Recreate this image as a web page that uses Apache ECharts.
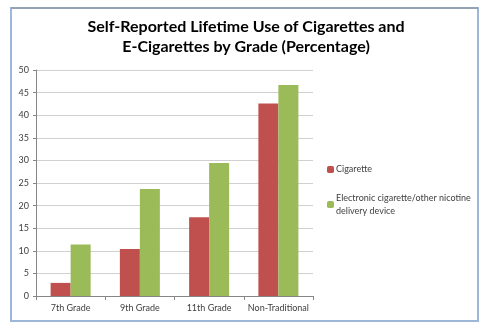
<!DOCTYPE html>
<html>
<head>
<meta charset="utf-8">
<script src="https://cdn.jsdelivr.net/npm/echarts@6/dist/echarts.min.js"></script>
<style>
  html, body { margin: 0; padding: 0; background: #fff; }
  #chart { width: 491px; height: 331px; }
</style>
</head>
<body>
<div id="chart"></div>
<script>
// Grades on the category axis
var grades = ['7th Grade', '9th Grade', '11th Grade', 'Non-Traditional'];
// Lifetime use, percent of students
var cigarette = [2.9, 10.4, 17.4, 42.6];
var eCigarette = [11.4, 23.7, 29.4, 46.7];
var seriesNames = ['Cigarette', 'Electronic cigarette/other nicotine delivery device'];
var yTicks = { min: 0, max: 50, interval: 5 };

var chart = echarts.init(document.getElementById('chart'), null, { renderer: 'canvas' });

var labelFont = 'Lato, "Open Sans", sans-serif';

chart.setOption({
  animation: false,
  backgroundColor: '#ffffff',
  title: {
    text: 'Self-Reported Lifetime Use of Cigarettes and\nE-Cigarettes by Grade (Percentage)',
    left: 246,
    textAlign: 'center',
    top: 17,
    padding: 0,
    textStyle: {
      fontFamily: 'Lato, "Liberation Sans", sans-serif',
      fontWeight: 'bold',
      fontSize: 16,
      lineHeight: 20,
      color: '#000000'
    }
  },
  graphic: [
    { type: 'rect', shape: { x: 11, y: 8, width: 467, height: 313 },
      style: { fill: 'none', stroke: '#9DB7D8', lineWidth: 2 }, silent: true },
    { type: 'line', shape: { x1: 11, y1: 8, x2: 478, y2: 8 },
      style: { stroke: '#8C8C8C', lineWidth: 1 }, silent: true }
  ],
  legend: [
    {
      data: [seriesNames[0]],
      orient: 'vertical',
      left: 327, top: 165, padding: 0,
      itemWidth: 7, itemHeight: 7,
      textStyle: { fontFamily: labelFont, fontSize: 9, color: '#404040', padding: [0, 0, 0, -3] }
    },
    {
      data: [seriesNames[1]],
      orient: 'vertical',
      left: 327, top: 185, padding: 0,
      itemWidth: 7, itemHeight: 7,
      formatter: function (name) { return name.replace(' delivery', '\ndelivery'); },
      textStyle: { fontFamily: labelFont, fontSize: 9, lineHeight: 13, color: '#404040', padding: [13, 0, 0, -3] }
    }
  ],
  grid: { left: 36, right: 178, top: 70, bottom: 35, containLabel: false },
  xAxis: {
    type: 'category',
    data: grades,
    axisLine: { lineStyle: { color: '#868686', width: 1 } },
    axisTick: { show: true, length: 4, lineStyle: { color: '#868686' } },
    axisLabel: { fontFamily: labelFont, fontSize: 9, color: '#404040', margin: 8, interval: 0 }
  },
  yAxis: {
    type: 'value',
    min: yTicks.min, max: yTicks.max, interval: yTicks.interval,
    axisLine: { show: true, lineStyle: { color: '#868686', width: 1 } },
    axisTick: { show: true, length: 3, lineStyle: { color: '#868686' } },
    splitLine: { lineStyle: { color: '#D0D0D0', width: 1 } },
    axisLabel: { fontFamily: labelFont, fontSize: 9, color: '#404040', margin: 7 }
  },
  series: [
    { name: seriesNames[0], type: 'bar', data: cigarette, barWidth: 20, barGap: '0%',
      itemStyle: { color: '#C0504D' } },
    { name: seriesNames[1], type: 'bar', data: eCigarette, barWidth: 20, barGap: '0%',
      itemStyle: { color: '#9BBB59' } }
  ]
});
</script>
</body>
</html>
